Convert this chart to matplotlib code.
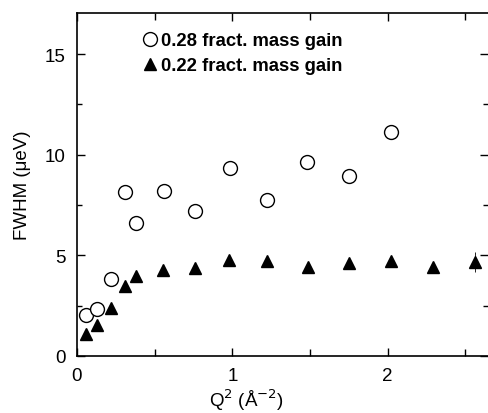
import matplotlib
matplotlib.use('Agg')
import matplotlib.pyplot as plt
import numpy as np

plt.rcParams['font.family'] = ['Liberation Sans', 'DejaVu Sans']

# FWHM vs Q^2, two hydration levels
q2_open = [0.058, 0.127, 0.217, 0.31, 0.38, 0.557, 0.757, 0.983, 1.226, 1.482, 1.75, 2.02]
fwhm_open = [2.05, 2.33, 3.83, 8.13, 6.59, 8.18, 7.19, 9.34, 7.75, 9.62, 8.96, 11.11]

q2_tri = [0.058, 0.129, 0.217, 0.31, 0.38, 0.553, 0.757, 0.98, 1.224, 1.486, 1.75, 2.024, 2.295, 2.563]
fwhm_tri = [1.09, 1.54, 2.38, 3.49, 3.96, 4.29, 4.36, 4.79, 4.74, 4.40, 4.62, 4.74, 4.44, 4.65]
err_last = 0.5

label_open = '0.28 fract. mass gain'
label_tri = '0.22 fract. mass gain'

fig = plt.figure(figsize=(4.88, 4.14), dpi=100)
ax = fig.add_axes([77/488, 57/414, 411/488, 343/414])

ax.plot(q2_open, fwhm_open, 'o', mfc='white', mec='black', mew=1.0, ms=10, label=label_open)
ax.plot(q2_tri, fwhm_tri, '^', color='black', ms=8, label=label_tri)
ax.errorbar(q2_tri[-1:], fwhm_tri[-1:], yerr=err_last, fmt='none', ecolor='black',
            elinewidth=0.6, linestyle=':')

ax.set_xlim(0, 2.646)
ax.set_ylim(0, 17.04)
ax.set_xticks([0, 1, 2])
ax.set_xticks([0.5, 1.5, 2.5], minor=True)
ax.set_yticks([0, 5, 10, 15])
ax.set_yticks([2.5, 7.5, 12.5], minor=True)
ax.tick_params(which='both', direction='in', top=True, right=True, labelsize=13.5, pad=8, width=1)
ax.tick_params(which='major', length=6)
ax.tick_params(which='minor', length=3.5)
ax.tick_params(axis='x', which='minor', length=5)
ax.spines['right'].set_visible(False)
for s in ['left', 'bottom', 'top']:
    ax.spines[s].set_linewidth(1.2)

ax.set_ylabel('FWHM (\u03bceV)', fontsize=13.5, labelpad=10)
fig.text(246/488, 1 - 400/414, 'Q$^2$ (\u00c5$^{-2}$)', fontsize=13.5, ha='center', va='center')

leg = ax.legend(loc='upper left', bbox_to_anchor=(0.147, 0.965), frameon=False,
                handlelength=0.6, handletextpad=0.3, labelspacing=0.42, borderaxespad=0,
                prop={'weight': 'bold', 'size': 13.3})

fig.savefig('out.png', dpi=100)
